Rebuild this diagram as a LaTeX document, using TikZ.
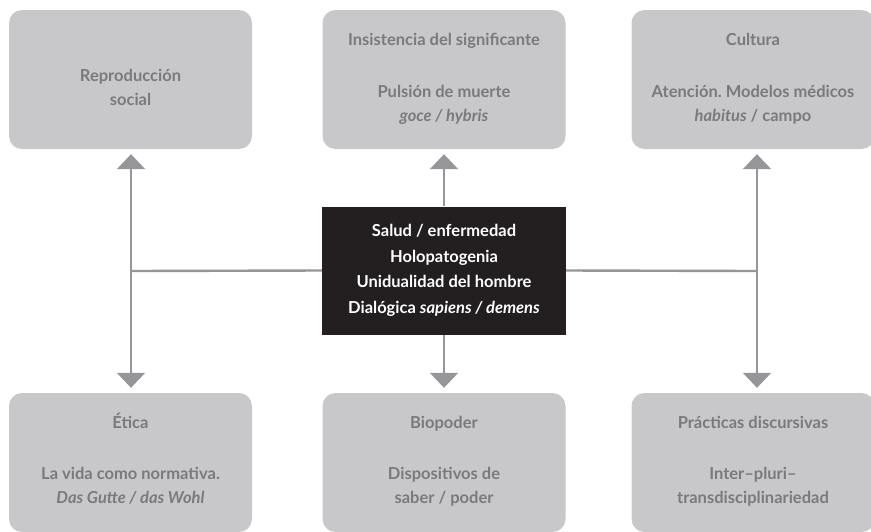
\documentclass[tikz,border=0pt]{standalone}
\usepackage{fontspec}
\setmainfont{Lato}
\usetikzlibrary{arrows.meta}
\usetikzlibrary{calc}
\definecolor{boxgrey}{RGB}{200,200,202}
\definecolor{textgrey}{RGB}{122,122,124}
\definecolor{linkgrey}{RGB}{150,149,154}
\definecolor{coreblack}{RGB}{35,31,32}
\tikzstyle{greybox}=[fill=boxgrey,rounded corners=13pt,minimum width=243pt,minimum height=139pt,inner sep=0pt]
\tikzstyle{corebox}=[fill=coreblack,text=white,minimum width=244pt,minimum height=128pt,inner sep=0pt,align=center,font=\fontsize{16.5}{25.5}\selectfont\bfseries]
\tikzstyle{boxtitle}=[text=textgrey,inner sep=0pt,anchor=base,font=\fontsize{16.5}{24}\selectfont\bfseries]
\tikzstyle{boxtext}=[text=textgrey,inner sep=0pt,anchor=base,align=center,font=\fontsize{16.5}{24}\selectfont\bfseries]
\tikzstyle{link}=[draw=linkgrey,line width=2.4pt]
\tikzstyle{linkarrow}=[link,-{Triangle[width=28pt,length=15pt]},shorten >=5pt]

\begin{document}
\frenchspacing
\begin{tikzpicture}[x=1pt,y=-1pt]
    \useasboundingbox (0,0) rectangle (871,531);

    \node[greybox] (repro) at (130.5,79.5) {};
    \node[greybox] (insist) at (444,79.5) {};
    \node[greybox] (cultura) at (753,79.5) {};
    \node[greybox] (etica) at (130.5,462.5) {};
    \node[greybox] (biopoder) at (444,462.5) {};
    \node[greybox] (practicas) at (753,462.5) {};

    \node[boxtext] (reproB) at (130.5,105) {Reproducción\\social};
    \node[boxtitle] (insistT) at (444,45) {Insistencia del significante};
    \node[boxtext] (insistB) at (444,121) {Pulsión de muerte\\\textit{goce / hybris}};
    \node[boxtitle] (culturaT) at (753,45) {Cultura};
    \node[boxtext] (culturaB) at (753,121) {Atención. Modelos médicos\\\textit{habitus} / campo};
    \node[boxtitle] (eticaT) at (130.5,428) {Ética};
    \node[boxtext] (eticaB) at (130.5,503) {La vida como normativa.\\\textit{Das Gutte / das Wohl}};
    \node[boxtitle] (biopoderT) at (444,428) {Biopoder};
    \node[boxtext] (biopoderB) at (444,503) {Dispositivos de\\saber / poder};
    \node[boxtitle] (practicasT) at (753,428) {Prácticas discursivas};
    \node[boxtext] (practicasB) at (753,503) {Inter--pluri--\\transdisciplinariedad};

    \node[corebox] (core) at (444,270.5) {Salud / enfermedad\\Holopatogenia\\Unidualidad del hombre\\Dialógica \textit{sapiens / demens}};

    \coordinate (jl) at (131,271);
    \coordinate (jr) at (757,271);
    \draw[link] (core.west) -- (jl);
    \draw[link] (core.east) -- (jr);
    \draw[linkarrow] (jl) -- (jl |- repro.south);
    \draw[linkarrow] (jl) -- (jl |- etica.north);
    \draw[linkarrow] (core.north) -- (insist.south);
    \draw[linkarrow] (core.south) -- (biopoder.north);
    \draw[linkarrow] (jr) -- (jr |- cultura.south);
    \draw[linkarrow] (jr) -- (jr |- practicas.north);
\end{tikzpicture}
\end{document}
